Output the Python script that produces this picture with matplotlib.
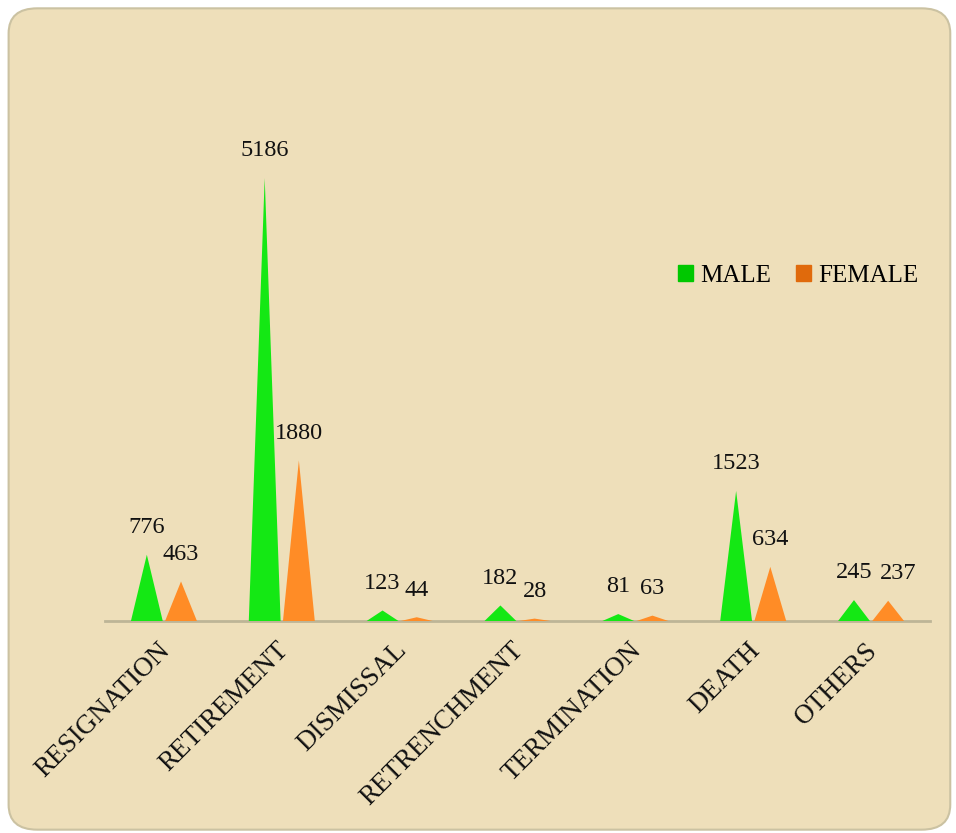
import matplotlib.pyplot as plt
import matplotlib.patches as mpatches
import matplotlib.transforms as mtransforms
from matplotlib.patches import FancyBboxPatch
import numpy as np

# ===== DATA =====
categories = ["RESIGNATION", "RETIREMENT", "DISMISSAL", "RETRENCHMENT",
              "TERMINATION", "DEATH", "OTHERS"]
male = [776, 5186, 123, 182, 81, 1523, 245]
female = [463, 1880, 44, 28, 63, 634, 237]

# ===== STYLE =====
BG = "#EEDFBA"
MALE_CONE = "#14E814"
FEMALE_CONE = "#FF8C26"
MALE_KEY = "#00C800"
FEMALE_KEY = "#E06A0C"
FONT = "Liberation Serif"
# horizontal nudge (points) for female value labels that would collide
female_nudge = [0, 0, 0, 0, 0, 0, 7]

fig = plt.figure(figsize=(9.56, 8.33), dpi=100)
fig.patch.set_facecolor("white")

# rounded parchment frame
frame = FancyBboxPatch((0.009, 0.004), 0.985, 0.986,
                       boxstyle="round,pad=0,rounding_size=0.03",
                       transform=fig.transFigure, facecolor=BG,
                       edgecolor="#CBC2A2", linewidth=1.5, zorder=-5)
fig.patches.append(frame)

ax = fig.add_axes([105 / 956, 1 - 621 / 833, 825 / 956, 521 / 833])
ax.set_facecolor("none")
ax.set_zorder(2)

x = np.arange(len(categories))
half = 0.135
off = 0.145

# ===== CONES =====
for xi, m, f, nud in zip(x, male, female, female_nudge):
    cx = xi - off
    ax.fill([cx - half, cx, cx + half], [0, m, 0], color=MALE_CONE,
            linewidth=0, zorder=3)
    ax.annotate(str(m), (cx, m), xytext=(0, 12), textcoords="offset points",
                ha="center", va="bottom", fontsize=17.5, family=FONT, color="#111")
    cx = xi + off
    ax.fill([cx - half, cx, cx + half], [0, f, 0], color=FEMALE_CONE,
            linewidth=0, zorder=3)
    ax.annotate(str(f), (cx, f), xytext=(nud, 12), textcoords="offset points",
                ha="center", va="bottom", fontsize=17.5, family=FONT, color="#111")

ax.set_xlim(-0.5, len(categories) - 0.5)
ax.set_ylim(0, 6100)

ax.set_xticks(x)
ax.set_xticklabels(categories, rotation=45, ha="right", rotation_mode="anchor",
                   fontsize=19.5, family=FONT, color="#111")
ax.tick_params(axis="x", length=0, pad=12)
shift = mtransforms.ScaledTranslation(-6 / 100, 0, fig.dpi_scale_trans)
for lbl in ax.get_xticklabels():
    lbl.set_transform(lbl.get_transform() + shift)
ax.set_yticks([])

for s in ["top", "right", "left"]:
    ax.spines[s].set_visible(False)
ax.spines["bottom"].set_color("#BDB597")
ax.spines["bottom"].set_linewidth(2)

# ===== LEGEND =====
handles = [mpatches.Patch(color=MALE_KEY, label="MALE"),
           mpatches.Patch(color=FEMALE_KEY, label="FEMALE")]
leg = fig.legend(handles=handles, loc="center", bbox_to_anchor=(798 / 956, 1 - 276 / 833),
                 ncol=2, frameon=False, prop={"family": FONT, "size": 18},
                 handlelength=0.6, handleheight=0.6, handletextpad=0.3,
                 columnspacing=1.0)
leg.set_zorder(3)

plt.savefig("out.png", dpi=100, facecolor=fig.get_facecolor())
